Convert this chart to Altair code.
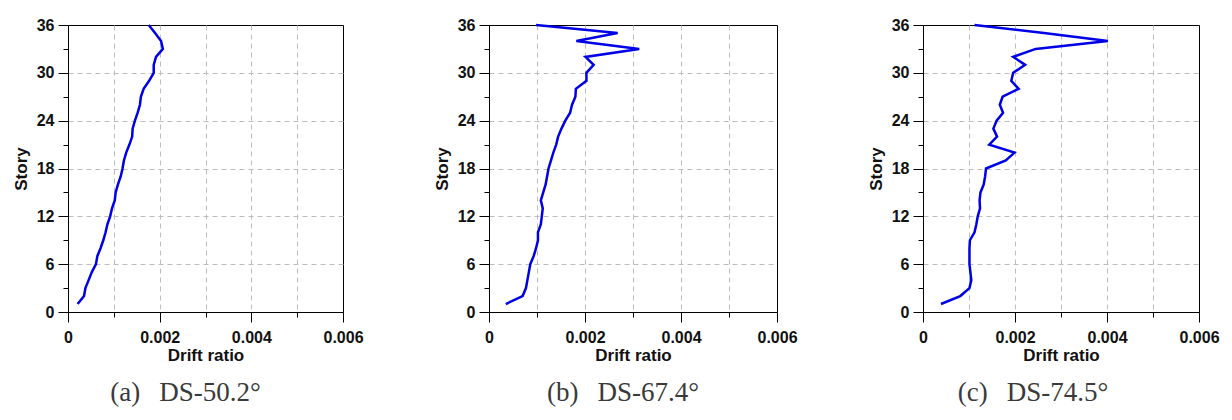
import altair as alt
import pandas as pd

stories = list(range(1, 37))

drift_a = [0.00021, 0.00035, 0.00038, 0.00045, 0.00052, 0.00061, 0.00064, 0.00071,
           0.00077, 0.00082, 0.00086, 0.00092, 0.00096, 0.00102, 0.00104, 0.00109,
           0.00115, 0.00119, 0.00122, 0.00127, 0.00134, 0.00140, 0.00141, 0.00146,
           0.00152, 0.00157, 0.00159, 0.00165, 0.00177, 0.00187, 0.00187, 0.00192,
           0.00207, 0.00203, 0.00190, 0.00176]

drift_b = [0.00035, 0.00070, 0.00077, 0.00080, 0.00083, 0.00086, 0.00093, 0.00098,
           0.00102, 0.00102, 0.00108, 0.00110, 0.00112, 0.00108, 0.00113, 0.00118,
           0.00121, 0.00124, 0.00129, 0.00134, 0.00140, 0.00144, 0.00151, 0.00159,
           0.00169, 0.00173, 0.00180, 0.00181, 0.00203, 0.00203, 0.00218, 0.00201,
           0.00313, 0.00182, 0.00268, 0.00098]

drift_c = [0.00039, 0.00081, 0.00101, 0.00105, 0.00103, 0.00101, 0.00101, 0.00101,
           0.00102, 0.00112, 0.00116, 0.00119, 0.00124, 0.00123, 0.00125, 0.00132,
           0.00135, 0.00137, 0.00180, 0.00199, 0.00144, 0.00161, 0.00153, 0.00160,
           0.00174, 0.00167, 0.00173, 0.00208, 0.00192, 0.00196, 0.00222, 0.00196,
           0.00245, 0.00402, 0.00263, 0.00112]

captions = ["(a)\u2002\u2009DS-50.2°", "(b)\u2002\u2009DS-67.4°", "(c)\u2002\u2009DS-74.5°"]
caption_dx = [-20, -10, -28]
x_ticks = [0, 0.001, 0.002, 0.003, 0.004, 0.005, 0.006]
y_ticks = [0, 3, 6, 9, 12, 15, 18, 21, 24, 27, 30, 33, 36]
panel_widths = [275, 288, 276]

SANS = "Liberation Sans"
SERIF = "Liberation Serif"


def panel(drift, caption, width, dx):
    df = pd.DataFrame({"story": stories, "drift": drift})
    x_axis = alt.Axis(
        values=x_ticks,
        title="Drift ratio",
        labelExpr="round(datum.value*1000) % 2 == 0 ? (datum.value == 0 ? '0' : format(datum.value, '.3f')) : ''",
        tickSize={"condition": {"test": "round(datum.value*1000) % 2 == 0", "value": 10}, "value": 5},
        gridOpacity={"condition": {"test": "datum.value > 0.0005 && datum.value < 0.0055", "value": 1}, "value": 0},
        labelPadding=7,
        titlePadding=2,
        labelFlush=False,
        labelOverlap=False,
    )
    y_axis = alt.Axis(
        values=y_ticks,
        title="Story",
        labelExpr="datum.value % 6 == 0 ? datum.label : ''",
        tickSize={"condition": {"test": "datum.value % 6 == 0", "value": 10}, "value": 5},
        gridOpacity={"condition": {"test": "datum.value % 6 == 0 && datum.value > 0 && datum.value < 36", "value": 1}, "value": 0},
        labelPadding=4,
        titlePadding=6,
        labelFlush=False,
        labelOverlap=False,
    )
    return (
        alt.Chart(df)
        .mark_line(color="#0000e6", strokeWidth=2.5)
        .encode(
            x=alt.X("drift:Q", scale=alt.Scale(domain=[0, 0.006], nice=False, zero=False), axis=x_axis),
            y=alt.Y("story:Q", scale=alt.Scale(domain=[0, 36], nice=False), axis=y_axis),
            order=alt.Order("story:Q"),
        )
        .properties(
            width=width,
            height=287,
            title=alt.TitleParams(
                caption,
                orient="bottom",
                frame="group",
                anchor="middle",
                font=SERIF,
                fontSize=27,
                fontWeight="normal",
                color="#3a3a3a",
                offset=17,
                dx=dx,
            ),
        )
    )


chart = (
    alt.hconcat(
        panel(drift_a, captions[0], panel_widths[0], caption_dx[0]),
        panel(drift_b, captions[1], panel_widths[1], caption_dx[1]),
        panel(drift_c, captions[2], panel_widths[2], caption_dx[2]),
        spacing=68,
    )
    .properties(padding={"left": 11, "top": 16, "right": 5, "bottom": 5}, background="white")
    .configure_view(stroke="black", strokeWidth=1)
    .configure_axis(
        labelFont=SANS,
        labelFontSize=16,
        labelFontWeight="bold",
        labelColor="#111111",
        titleFont=SANS,
        titleFontSize=17,
        titleFontWeight="bold",
        titleColor="#111111",
        domainColor="black",
        domainWidth=1,
        tickColor="black",
        tickWidth=1,
        gridColor="#bdbdbd",
        gridDash=[5, 4],
        gridWidth=1,
    )
)

chart.save("out.html", embed_options={"renderer": "svg", "actions": False})
